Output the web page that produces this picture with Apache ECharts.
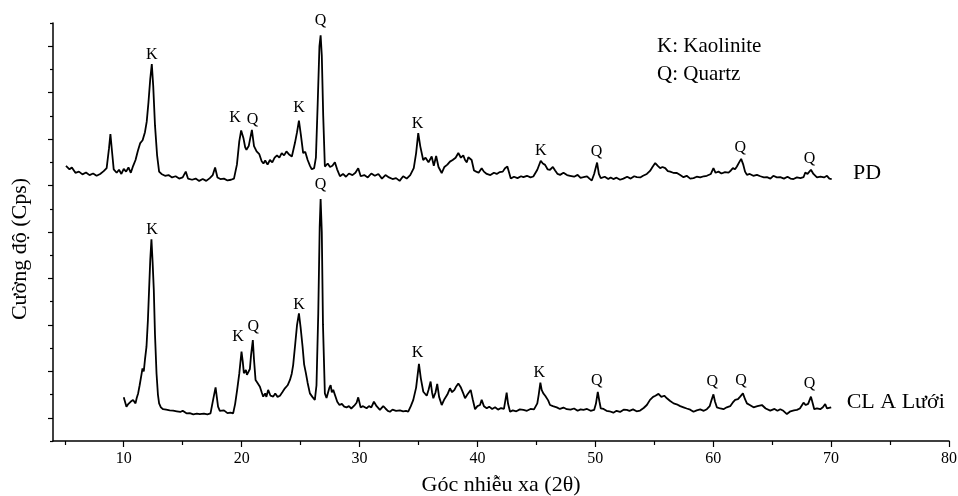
<!DOCTYPE html>
<html>
<head>
<meta charset="utf-8">
<script src="https://cdn.jsdelivr.net/npm/echarts@6/dist/echarts.min.js"></script>
<style>
  html, body { margin: 0; padding: 0; background: #fff; }
  #xrd { width: 958px; height: 496px; }
</style>
</head>
<body>
<div id="xrd"></div>
<script>
// giản đồ XRD, 2 mẫu (PD ở trên, CL A Lưới ở dưới)
var pdPattern = [
  [5.1,11.85],[5.4,11.7],[5.6,11.78],[5.9,11.55],[6.2,11.6],[6.5,11.48],[6.8,11.56],[7.1,11.45],
  [7.4,11.52],[7.7,11.42],[8.0,11.5],[8.3,11.62],[8.55,11.75],[8.75,12.6],[8.87,13.22],[9.0,12.5],
  [9.15,11.7],[9.4,11.55],[9.6,11.68],[9.8,11.5],[10.0,11.72],[10.2,11.6],[10.4,11.78],[10.6,11.55],
  [10.8,11.85],[11.0,12.1],[11.2,12.5],[11.4,12.83],[11.6,12.95],[11.8,13.3],[11.95,13.75],[12.1,14.6],
  [12.25,15.6],[12.38,16.23],[12.5,15.3],[12.65,13.6],[12.83,12.3],[13.0,11.6],[13.2,11.5],[13.5,11.42],
  [13.8,11.45],[14.1,11.35],[14.4,11.4],[14.7,11.3],[15.0,11.35],[15.26,11.6],[15.45,11.3],[15.8,11.25],
  [16.1,11.3],[16.4,11.2],[16.7,11.28],[17.0,11.2],[17.3,11.32],[17.55,11.45],[17.75,11.78],[17.95,11.35],
  [18.2,11.28],[18.5,11.3],[18.8,11.22],[19.1,11.25],[19.35,11.3],[19.6,11.9],[19.8,12.9],[19.96,13.37],
  [20.15,13.05],[20.3,12.65],[20.41,12.54],[20.6,12.7],[20.87,13.4],[21.05,12.7],[21.27,12.47],[21.5,12.35],
  [21.7,12.05],[21.85,11.95],[22.0,12.08],[22.2,11.9],[22.4,12.1],[22.6,12.0],[22.8,12.2],[23.0,12.3],
  [23.2,12.2],[23.4,12.4],[23.6,12.3],[23.8,12.47],[24.0,12.35],[24.26,12.25],[24.52,12.83],[24.7,13.3],
  [24.86,13.8],[25.02,13.2],[25.22,12.4],[25.4,12.45],[25.6,12.1],[25.8,11.85],[25.95,11.7],[26.15,11.75],
  [26.3,12.2],[26.45,14.5],[26.6,17.0],[26.7,17.47],[26.8,16.6],[26.92,14.0],[27.06,11.82],[27.3,11.95],
  [27.5,11.8],[27.7,11.85],[27.91,12.0],[28.1,11.7],[28.34,11.4],[28.6,11.5],[28.85,11.38],[29.1,11.52],
  [29.4,11.45],[29.65,11.55],[29.89,11.75],[30.1,11.4],[30.4,11.45],[30.7,11.35],[31.0,11.52],[31.3,11.42],
  [31.6,11.5],[31.9,11.3],[32.2,11.45],[32.5,11.35],[32.8,11.28],[33.1,11.32],[33.4,11.2],[33.7,11.4],
  [34.0,11.3],[34.3,11.45],[34.6,11.75],[34.8,12.4],[34.98,13.26],[35.15,12.7],[35.4,12.1],[35.6,12.2],
  [35.85,12.0],[36.12,12.25],[36.3,11.85],[36.5,12.27],[36.7,11.8],[36.97,11.54],[37.2,11.8],[37.45,11.9],
  [37.67,12.03],[37.9,12.1],[38.15,12.2],[38.38,12.4],[38.6,12.2],[38.8,12.3],[38.95,12.1],[39.1,12.0],
  [39.23,12.22],[39.37,12.25],[39.51,12.1],[39.71,11.65],[39.9,11.6],[40.1,11.55],[40.36,11.75],[40.55,11.6],
  [40.79,11.5],[41.1,11.45],[41.4,11.55],[41.64,11.5],[41.9,11.58],[42.15,11.6],[42.34,11.75],[42.54,11.82],
  [42.83,11.3],[43.1,11.38],[43.4,11.32],[43.7,11.4],[43.9,11.36],[44.2,11.42],[44.5,11.35],[44.74,11.39],
  [45.08,11.68],[45.37,12.07],[45.55,11.95],[45.74,11.89],[45.95,11.7],[46.16,11.68],[46.4,11.8],[46.59,11.65],
  [46.8,11.5],[47.01,11.46],[47.3,11.55],[47.6,11.45],[47.86,11.42],[48.2,11.38],[48.5,11.46],[48.75,11.33],
  [48.99,11.36],[49.3,11.4],[49.5,11.3],[49.7,11.22],[49.9,11.5],[50.15,11.99],[50.3,11.5],[50.46,11.32],
  [50.8,11.38],[51.1,11.28],[51.3,11.35],[51.53,11.28],[51.8,11.34],[52.1,11.25],[52.38,11.3],[52.7,11.38],
  [53.0,11.3],[53.3,11.4],[53.52,11.36],[53.81,11.35],[54.05,11.42],[54.37,11.5],[54.64,11.63],[54.85,11.8],
  [55.08,11.97],[55.3,11.85],[55.5,11.75],[55.7,11.8],[55.93,11.75],[56.15,11.62],[56.35,11.6],[56.6,11.55],
  [56.92,11.54],[57.2,11.45],[57.48,11.36],[57.75,11.42],[58.05,11.3],[58.33,11.32],[58.6,11.38],[58.9,11.35],
  [59.2,11.4],[59.46,11.42],[59.8,11.5],[60.02,11.75],[60.2,11.55],[60.45,11.6],[60.7,11.52],[61.0,11.58],
  [61.3,11.56],[61.5,11.65],[61.67,11.75],[61.85,11.7],[62.01,11.82],[62.2,12.0],[62.37,12.15],[62.55,11.9],
  [62.7,11.6],[62.86,11.46],[63.1,11.5],[63.4,11.42],[63.71,11.46],[64.0,11.4],[64.3,11.35],[64.56,11.36],
  [64.85,11.3],[65.1,11.42],[65.4,11.35],[65.69,11.36],[66.0,11.3],[66.3,11.38],[66.55,11.3],[66.81,11.28],
  [67.1,11.35],[67.4,11.32],[67.66,11.36],[67.81,11.56],[68.0,11.5],[68.29,11.68],[68.5,11.5],[68.8,11.35],
  [69.1,11.38],[69.4,11.35],[69.65,11.42],[69.85,11.3],[70.05,11.28]
];

var clPattern = [
  [10.0,1.88],[10.23,1.48],[10.4,1.6],[10.6,1.7],[10.79,1.77],[11.0,1.62],[11.1,1.85],[11.22,2.05],
  [11.35,2.4],[11.5,2.85],[11.59,3.13],[11.7,3.0],[11.8,3.5],[11.93,4.06],[12.05,5.2],[12.15,6.51],
  [12.25,7.8],[12.35,8.69],[12.45,7.7],[12.55,6.51],[12.65,4.6],[12.78,2.92],[12.9,2.0],[13.0,1.62],
  [13.15,1.45],[13.34,1.37],[13.6,1.35],[13.9,1.32],[14.19,1.31],[14.5,1.28],[14.8,1.25],[15.0,1.3],
  [15.1,1.22],[15.32,1.19],[15.6,1.2],[15.9,1.15],[16.2,1.18],[16.45,1.16],[16.8,1.18],[17.1,1.15],
  [17.36,1.19],[17.58,1.77],[17.79,2.31],[18.0,1.48],[18.15,1.3],[18.29,1.26],[18.5,1.32],[18.8,1.2],
  [19.05,1.22],[19.28,1.19],[19.45,1.6],[19.62,2.2],[19.8,2.9],[19.99,3.85],[20.1,3.4],[20.19,2.92],
  [20.36,3.06],[20.45,2.85],[20.55,2.77],[20.7,3.1],[20.8,3.7],[20.95,4.35],[21.05,3.5],[21.18,2.63],
  [21.35,2.5],[21.55,2.34],[21.7,2.1],[21.83,1.91],[22.0,2.05],[22.1,1.9],[22.25,2.2],[22.45,1.95],
  [22.68,1.91],[22.85,2.05],[23.05,1.9],[23.25,1.95],[23.45,2.1],[23.67,2.27],[23.9,2.4],[24.1,2.63],
  [24.25,2.9],[24.37,3.27],[24.55,4.2],[24.7,5.0],[24.86,5.5],[25.0,4.9],[25.17,4.06],[25.3,3.3],
  [25.45,2.92],[25.6,2.5],[25.79,2.05],[26.0,1.9],[26.21,1.77],[26.35,2.4],[26.5,5.5],[26.62,9.2],
  [26.7,10.42],[26.8,9.0],[26.9,5.0],[27.06,2.05],[27.2,1.85],[27.34,1.82],[27.45,2.3],[27.55,2.41],
  [27.65,2.1],[27.77,2.2],[27.9,2.25],[28.11,1.69],[28.3,1.55],[28.5,1.6],[28.7,1.48],[28.9,1.45],
  [29.1,1.5],[29.3,1.4],[29.55,1.52],[29.75,1.65],[29.89,1.88],[30.09,1.45],[30.3,1.5],[30.6,1.41],
  [30.8,1.5],[31.0,1.45],[31.22,1.69],[31.45,1.5],[31.73,1.34],[32.01,1.5],[32.2,1.4],[32.4,1.3],
  [32.58,1.26],[32.8,1.35],[33.1,1.3],[33.43,1.32],[33.7,1.28],[33.95,1.3],[34.13,1.26],[34.35,1.5],
  [34.56,1.77],[34.8,2.3],[35.04,3.32],[35.2,2.7],[35.41,2.12],[35.7,1.95],[35.85,2.2],[36.03,2.56],
  [36.15,2.1],[36.26,1.84],[36.45,2.1],[36.59,2.46],[36.75,1.9],[36.97,1.55],[37.2,1.8],[37.45,2.0],
  [37.67,2.27],[37.85,2.1],[38.05,2.2],[38.2,2.35],[38.38,2.48],[38.6,2.3],[38.8,2.05],[38.95,1.84],
  [39.15,2.0],[39.3,1.95],[39.43,2.2],[39.6,1.8],[39.8,1.37],[40.0,1.5],[40.22,1.55],[40.36,1.77],
  [40.55,1.5],[40.79,1.41],[41.0,1.48],[41.25,1.38],[41.5,1.45],[41.75,1.35],[42.0,1.42],[42.25,1.38],
  [42.48,2.08],[42.6,1.6],[42.77,1.26],[43.0,1.32],[43.3,1.28],[43.6,1.36],[43.9,1.34],[44.2,1.3],
  [44.5,1.38],[44.8,1.36],[45.08,1.62],[45.2,2.0],[45.34,2.51],[45.45,2.2],[45.59,2.05],[45.75,1.95],
  [45.88,2.02],[46.0,1.75],[46.16,1.55],[46.4,1.5],[46.73,1.45],[47.0,1.38],[47.3,1.44],[47.58,1.37],
  [47.9,1.35],[48.2,1.4],[48.5,1.3],[48.75,1.36],[48.99,1.34],[49.3,1.38],[49.6,1.3],[49.9,1.34],
  [50.05,1.6],[50.21,2.11],[50.35,1.7],[50.46,1.41],[50.7,1.38],[50.95,1.3],[51.2,1.28],[51.53,1.22],
  [51.8,1.3],[52.1,1.25],[52.4,1.35],[52.67,1.34],[52.9,1.3],[53.2,1.36],[53.5,1.28],[53.8,1.31],
  [54.1,1.42],[54.37,1.55],[54.64,1.77],[54.9,1.9],[55.1,1.95],[55.36,2.03],[55.6,1.9],[55.85,1.95],
  [56.07,1.84],[56.35,1.72],[56.64,1.62],[56.9,1.58],[57.2,1.5],[57.48,1.45],[57.75,1.4],[58.05,1.35],
  [58.33,1.26],[58.6,1.32],[58.9,1.36],[59.2,1.3],[59.46,1.37],[59.7,1.5],[59.85,1.75],[60.02,2.01],
  [60.15,1.7],[60.31,1.45],[60.6,1.4],[60.87,1.37],[61.15,1.45],[61.44,1.5],[61.65,1.65],[61.86,1.77],
  [62.1,1.8],[62.29,1.91],[62.52,2.05],[62.7,1.8],[62.86,1.62],[63.1,1.55],[63.42,1.45],[63.75,1.5],
  [64.13,1.55],[64.45,1.4],[64.84,1.31],[65.2,1.38],[65.45,1.3],[65.69,1.37],[65.95,1.3],[66.25,1.16],
  [66.55,1.28],[66.85,1.32],[67.1,1.34],[67.35,1.4],[67.66,1.65],[67.85,1.55],[68.05,1.6],[68.29,1.91],
  [68.45,1.6],[68.57,1.37],[68.8,1.4],[69.08,1.37],[69.3,1.45],[69.5,1.59],[69.65,1.4],[69.78,1.37],
  [70.01,1.45]
];

// nhãn pha trên các đỉnh: [2θ, cường độ, chữ]
var pdPeakLabels = [
  [12.38,16.63,'K'],[19.45,13.93,'K'],[20.92,13.83,'Q'],[24.86,14.34,'K'],[26.7,18.11,'Q'],
  [34.93,13.66,'K'],[45.37,12.51,'K'],[50.1,12.47,'Q'],[62.29,12.64,'Q'],[68.17,12.14,'Q']
];
var clPeakLabels = [
  [12.4,9.09,'K'],[19.7,4.49,'K'],[20.98,4.93,'Q'],[24.86,5.86,'K'],[26.7,11.03,'Q'],
  [34.93,3.81,'K'],[45.25,2.94,'K'],[50.13,2.6,'Q'],[59.93,2.56,'Q'],[62.37,2.6,'Q'],[68.17,2.46,'Q']
];
var sampleNames = [[71.86,11.55,'PD'],[71.32,1.67,'CL A Lưới']];
var phaseKey = ['K: Kaolinite', 'Q: Quartz'];

var xLabelValues = [10,20,30,40,50,60,70,80];
var xMinorValues = [5,15,25,35,45,55,65,75];

var serif = '"Liberation Serif", "Times New Roman", serif';
var ink = '#000';

var chart = echarts.init(document.getElementById('xrd'));

function labelSeries(data, size, align) {
  return {
    type: 'scatter',
    data: data,
    symbolSize: 0,
    clip: false,
    silent: true,
    itemStyle: { opacity: 1 },
    label: {
      show: true,
      position: 'inside',
      align: align,
      color: ink,
      opacity: 1,
      fontFamily: serif,
      fontSize: size,
      formatter: function (p) { return p.value[2]; }
    }
  };
}

function traceSeries(data) {
  return {
    type: 'line',
    data: data,
    showSymbol: false,
    symbol: 'none',
    clip: false,
    lineStyle: { color: ink, width: 1.8 }
  };
}

chart.setOption({
  animation: false,
  grid: { left: 53, right: 9, top: 23, bottom: 55, containLabel: false, outerBoundsMode: 'none' },
  xAxis: [{
    type: 'value',
    min: 4,
    max: 80,
    name: 'Góc nhiễu xa (2θ)',
    nameLocation: 'middle',
    nameGap: 33,
    nameTextStyle: { fontFamily: serif, fontSize: 22, color: ink },
    axisLine: { lineStyle: { color: ink, width: 1.5 } },
    axisTick: { customValues: xLabelValues, length: 6, lineStyle: { color: ink, width: 1.2 } },
    axisLabel: { customValues: xLabelValues, margin: 10, fontFamily: serif, fontSize: 16, color: ink },
    splitLine: { show: false }
  }, {
    type: 'value',
    min: 4,
    max: 80,
    position: 'bottom',
    axisLine: { show: false },
    axisTick: { customValues: xMinorValues, length: 4, lineStyle: { color: ink, width: 1.2 } },
    axisLabel: { show: false },
    splitLine: { show: false }
  }],
  yAxis: {
    type: 'value',
    min: 0,
    max: 18,
    interval: 2,
    name: 'Cường độ (Cps)',
    nameLocation: 'middle',
    nameGap: 22,
    nameRotate: 90,
    nameTextStyle: { fontFamily: serif, fontSize: 22, color: ink, padding: [0, 34, 0, 0] },
    axisLine: { show: true, lineStyle: { color: ink, width: 1.5 } },
    axisTick: { show: true, length: 3, lineStyle: { color: ink, width: 1.2 } },
    minorTick: { show: true, splitNumber: 2, length: 5, lineStyle: { color: ink, width: 1.2 } },
    axisLabel: { show: false },
    splitLine: { show: false }
  },
  graphic: [
    { type: 'text', left: 657, top: 36, style: { text: phaseKey[0], font: '21px ' + serif, fill: ink } },
    { type: 'text', left: 657, top: 64, style: { text: phaseKey[1], font: '21px ' + serif, fill: ink } }
  ],
  series: [
    traceSeries(pdPattern),
    traceSeries(clPattern),
    labelSeries(pdPeakLabels, 16, 'center'),
    labelSeries(clPeakLabels, 16, 'center'),
    labelSeries(sampleNames, 22, 'left')
  ]
});
</script>
</body>
</html>
